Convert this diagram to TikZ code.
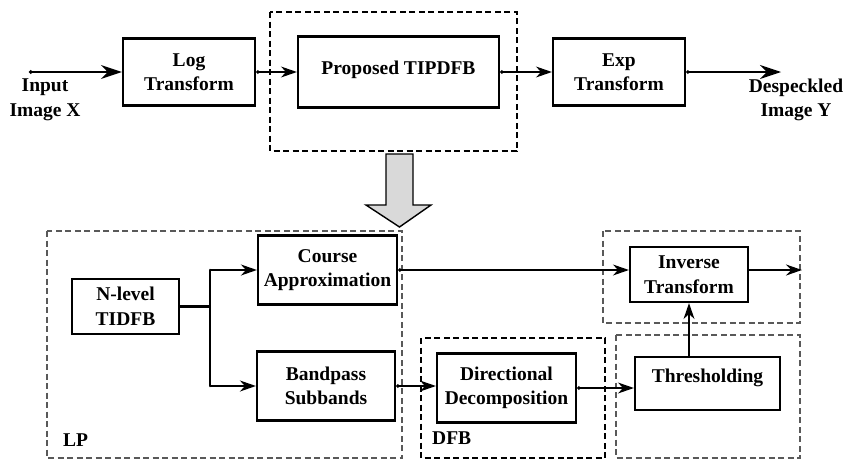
\documentclass[tikz,border=0pt]{standalone}
\usepackage{fontspec}
\setmainfont{Liberation Serif}
\usetikzlibrary{arrows.meta}
\begin{document}
\begin{tikzpicture}[x=1pt,y=-1pt,
  blk/.style={draw, line width=2.2pt, align=center, inner sep=0pt,
    font=\fontsize{19.5}{24.5}\selectfont\bfseries},
  grp/.style={draw, dashed, dash pattern=on 6pt off 3.5pt, line width=1.4pt},
  grpl/.style={grp, draw=black!65},
  lbl/.style={align=center, inner sep=0pt, font=\fontsize{19.5}{24.5}\selectfont\bfseries},
  con/.style={line width=1.4pt, -{Stealth[length=16pt,width=11pt]}},
  dcon/.style={line width=1.4pt, {Circle[length=3.5pt]}-{Stealth[length=16pt,width=11pt]}},
  bcon/.style={line width=1.6pt, {Circle[length=3.5pt]}-{Stealth[length=21pt,width=14pt]}}
]
\useasboundingbox (0,0) rectangle (858,461);
% top row
\draw[grp] (270,12) rectangle (517,151);
\node[blk, minimum width=132pt, minimum height=67pt] (log) at (189,72) {Log\\Transform};
\node[blk, minimum width=201pt, minimum height=71pt, text depth=8pt] (prop) at (398.5,72) {Proposed TIPDFB};
\node[blk, minimum width=132pt, minimum height=67pt] (exp) at (619,72) {Exp\\Transform};
\coordinate (in) at (29,72);
\coordinate (out) at (781,72);
\node[lbl] (inlbl) at (45,100) {Input\\Image X};
\node[lbl] (outlbl) at (796,100) {Despeckled\\Image Y};
\draw[bcon] (in) -- (log.west);
\draw[dcon] (log.east) -- (prop.west);
\draw[dcon] (prop.east) -- (exp.west);
\draw[bcon] (exp.east) -- (out);
% big gray arrow
\draw[line width=1.4pt, fill=black!15, line join=miter]
  (386,154) -- (413,154) -- (413,205) -- (431,205) -- (399.5,227) -- (366,205) -- (386,205) -- cycle;
% groups bottom
\draw[grpl] (47,231) rectangle (402,458);
\draw[grp] (421,338) rectangle (605,458);
\draw[grpl] (603,231) rectangle (800,323);
\draw[grpl] (616,335) rectangle (800,458);
\node[lbl, anchor=west] (lp) at (63,440) {LP};
\node[lbl, anchor=west] (dfb) at (432,438) {DFB};
% bottom blocks
\node[blk, minimum width=107pt, minimum height=55pt] (ntid) at (125.5,306.5) {N-level\\TIDFB};
\node[blk, minimum width=139pt, minimum height=69pt] (course) at (327.5,270) {Course\\Approximation};
\node[blk, minimum width=138pt, minimum height=69pt] (band) at (326,386) {Bandpass\\Subbands};
\node[blk, minimum width=139pt, minimum height=69pt] (dir) at (506.5,388) {Directional\\Decomposition};
\node[blk, minimum width=118pt, minimum height=55pt] (inv) at (689,274.5) {Inverse\\Transform};
\node[blk, minimum width=145pt, minimum height=53pt, text depth=15pt] (thr) at (707.5,383.5) {Thresholding};
% connectors bottom
\draw[line width=3pt] (ntid.east) -- ++(30,0) coordinate (br);
\draw[line width=2.6pt, line cap=round] (br |- course.west) -- (br |- band.west);
\draw[con, line width=2pt] (br |- course.west) -- (course.west);
\draw[con, line width=2pt] (br |- band.west) -- (band.west);
\draw[dcon] (course.east) -- (inv.west |- course.east);
\coordinate (out2) at (802,270);
\draw[con, line width=2pt] (inv.east |- out2) -- (out2);
\draw[dcon] (band.east) -- (dir.west |- band.east);
\draw[dcon] (dir.east) -- (thr.west |- dir.east);
\draw[con] (inv.south |- thr.north) -- (inv.south);
\end{tikzpicture}
\end{document}
